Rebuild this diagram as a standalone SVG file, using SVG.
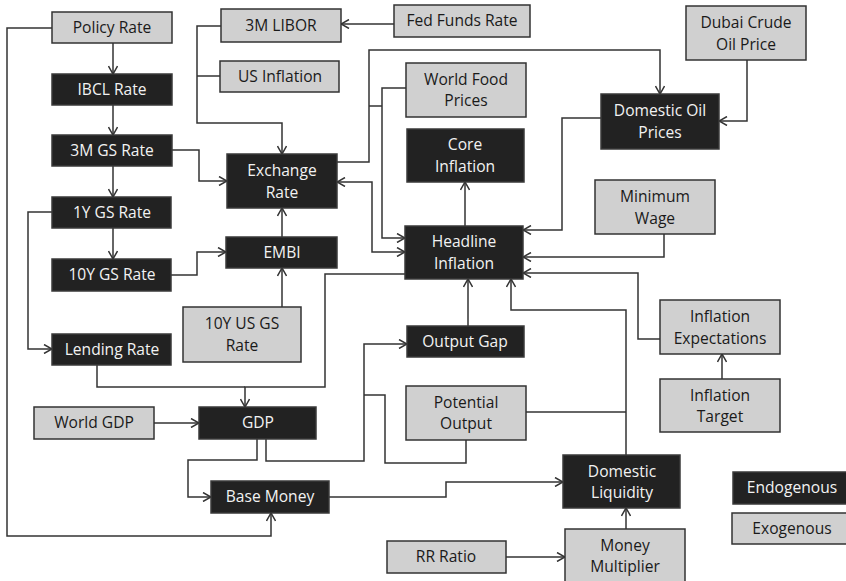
<svg xmlns="http://www.w3.org/2000/svg" width="846" height="581" viewBox="0 0 846 581">
<style>
.en rect{fill:#222;stroke:#3a3a3a;stroke-width:1.5}
.ex rect{fill:#d0d0d0;stroke:#333;stroke-width:1.5}
text{font-family:"Open Sans","Noto Sans","Liberation Sans",sans-serif;font-size:15.6px;text-anchor:middle}
.en text{fill:#f2f2f2}
.ex text{fill:#1a1a1a}
#conn path{fill:none;stroke:#333;stroke-width:1.5}
</style>
<defs>
<marker id="a" viewBox="0 0 10 10" refX="9.5" refY="5" markerWidth="10" markerHeight="10" orient="auto-start-reverse" markerUnits="userSpaceOnUse">
<path d="M1.5,0.5 L9.5,5 L1.5,9.5" fill="none" stroke="#333" stroke-width="1.5"/>
</marker>
</defs>
<rect width="846" height="581" fill="#fff"/>
<g id="conn">
<path d="M113,43 V74" marker-end="url(#a)"/>
<path d="M113,105 V135" marker-end="url(#a)"/>
<path d="M113,166 V197" marker-end="url(#a)"/>
<path d="M113,228 V259" marker-end="url(#a)"/>
<path d="M52,212 H28 V349 H52" marker-end="url(#a)"/>
<path d="M52,28 H7 V536 H271 V513" marker-end="url(#a)"/>
<path d="M171,150 H199 V181 H227" marker-end="url(#a)"/>
<path d="M221,26 H197 V123 H282 V154" marker-end="url(#a)"/>
<path d="M220,76 H197"/>
<path d="M394,24 H341" marker-end="url(#a)"/>
<path d="M171,275 H197 V252 H226" marker-end="url(#a)"/>
<path d="M282,237 V208" marker-end="url(#a)"/>
<path d="M282,307 V268" marker-end="url(#a)"/>
<path d="M337,162 H369 V50 H660 V94" marker-end="url(#a)"/>
<path d="M369,106 H382"/>
<path d="M406,88 H382 V238 H405" marker-end="url(#a)"/>
<path d="M337,182 H372 V252 H405" marker-start="url(#a)" marker-end="url(#a)"/>
<path d="M465,226 V182" marker-end="url(#a)"/>
<path d="M601,118 H562 V230 H523" marker-end="url(#a)"/>
<path d="M747,60 V121 H719" marker-end="url(#a)"/>
<path d="M664,234 V257 H523" marker-end="url(#a)"/>
<path d="M660,339 H638 V273 H523" marker-end="url(#a)"/>
<path d="M722,379 V354" marker-end="url(#a)"/>
<path d="M626,455 V310 H511 V279" marker-end="url(#a)"/>
<path d="M526,412 H626"/>
<path d="M468,326 V279" marker-end="url(#a)"/>
<path d="M266,439 V461 H364 V344 H407" marker-end="url(#a)"/>
<path d="M466,440 V463 H385 V395 H364"/>
<path d="M405,274 H325 V387 H245 V407" marker-end="url(#a)"/>
<path d="M97,365 V387 H245"/>
<path d="M154,423 H199" marker-end="url(#a)"/>
<path d="M257,439 V460 H188 V497 H211" marker-end="url(#a)"/>
<path d="M329,497 H446 V482 H563" marker-end="url(#a)"/>
<path d="M626,529 V508" marker-end="url(#a)"/>
<path d="M506,557 H565" marker-end="url(#a)"/>
</g>
<g id="policy-rate" class="ex"><rect x="52" y="12" width="120" height="31"/><text x="112" y="33">Policy Rate</text></g>
<g id="ibcl-rate" class="en"><rect x="52" y="74" width="120" height="31"/><text x="112" y="95">IBCL Rate</text></g>
<g id="gs3m-rate" class="en"><rect x="52" y="135" width="120" height="31"/><text x="112" y="156">3M GS Rate</text></g>
<g id="gs1y-rate" class="en"><rect x="52" y="197" width="119" height="31"/><text x="112" y="218">1Y GS Rate</text></g>
<g id="gs10y-rate" class="en"><rect x="52" y="259" width="119" height="32"/><text x="112" y="280">10Y GS Rate</text></g>
<g id="lending-rate" class="en"><rect x="52" y="334" width="119" height="31"/><text x="112" y="355">Lending Rate</text></g>
<g id="libor" class="ex"><rect x="221" y="9" width="120" height="33"/><text x="281" y="31">3M LIBOR</text></g>
<g id="us-inflation" class="ex"><rect x="220" y="61" width="119" height="31"/><text x="280" y="82">US Inflation</text></g>
<g id="fed-funds" class="ex"><rect x="394" y="5" width="136" height="32"/><text x="462" y="26">Fed Funds Rate</text></g>
<g id="exchange-rate" class="en"><rect x="227" y="154" width="110" height="54"/><text x="282" y="176">Exchange</text><text x="282" y="198">Rate</text></g>
<g id="embi" class="en"><rect x="226" y="237" width="111" height="31"/><text x="282" y="258">EMBI</text></g>
<g id="us-gs10y" class="ex"><rect x="183" y="307" width="118" height="55"/><text x="242" y="329">10Y US GS</text><text x="242" y="351">Rate</text></g>
<g id="world-food" class="ex"><rect x="406" y="63" width="120" height="54"/><text x="466" y="85">World Food</text><text x="466" y="106">Prices</text></g>
<g id="core-inflation" class="en"><rect x="407" y="129" width="117" height="53"/><text x="465" y="150">Core</text><text x="465" y="172">Inflation</text></g>
<g id="headline-inflation" class="en"><rect x="405" y="226" width="118" height="53"/><text x="464" y="247">Headline</text><text x="464" y="269">Inflation</text></g>
<g id="output-gap" class="en"><rect x="407" y="326" width="117" height="31"/><text x="465" y="347">Output Gap</text></g>
<g id="potential-output" class="ex"><rect x="406" y="386" width="120" height="54"/><text x="466" y="408">Potential</text><text x="466" y="429">Output</text></g>
<g id="dubai-crude" class="ex"><rect x="686" y="6" width="120" height="54"/><text x="746" y="28">Dubai Crude</text><text x="746" y="50">Oil Price</text></g>
<g id="domestic-oil" class="en"><rect x="601" y="94" width="118" height="55"/><text x="660" y="116">Domestic Oil</text><text x="660" y="138">Prices</text></g>
<g id="minimum-wage" class="ex"><rect x="595" y="180" width="120" height="54"/><text x="655" y="202">Minimum</text><text x="655" y="224">Wage</text></g>
<g id="inflation-expectations" class="ex"><rect x="660" y="300" width="120" height="54"/><text x="720" y="322">Inflation</text><text x="720" y="344">Expectations</text></g>
<g id="inflation-target" class="ex"><rect x="660" y="379" width="120" height="53"/><text x="720" y="401">Inflation</text><text x="720" y="422">Target</text></g>
<g id="world-gdp" class="ex"><rect x="34" y="407" width="120" height="32"/><text x="94" y="428">World GDP</text></g>
<g id="gdp" class="en"><rect x="199" y="407" width="117" height="32"/><text x="258" y="428">GDP</text></g>
<g id="base-money" class="en"><rect x="211" y="481" width="118" height="32"/><text x="270" y="502">Base Money</text></g>
<g id="domestic-liquidity" class="en"><rect x="563" y="455" width="117" height="53"/><text x="622" y="477">Domestic</text><text x="622" y="498">Liquidity</text></g>
<g id="money-multiplier" class="ex"><rect x="565" y="529" width="120" height="56"/><text x="625" y="551">Money</text><text x="625" y="572">Multiplier</text></g>
<g id="rr-ratio" class="ex"><rect x="387" y="541" width="119" height="32"/><text x="446" y="562">RR Ratio</text></g>
<g id="legend-endogenous" class="en"><rect x="733" y="472" width="118" height="32"/><text x="792" y="493">Endogenous</text></g>
<g id="legend-exogenous" class="ex"><rect x="732" y="513" width="118" height="31"/><text x="792" y="534">Exogenous</text></g>
</svg>
